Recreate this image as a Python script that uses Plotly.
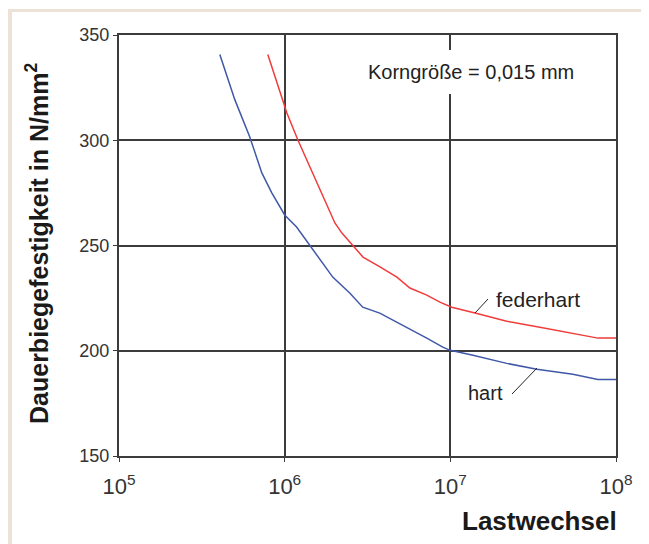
import plotly.graph_objects as go

# --- data ---
hart_n = [4.06e5, 5.0e5, 6.15e5, 7.28e5, 8.36e5, 1.0e6, 1.18e6, 1.42e6, 1.70e6, 1.95e6,
          2.47e6, 2.96e6, 3.75e6, 5.46e6, 7.21e6, 9.0e6, 1.0e7, 1.37e7, 2.19e7, 3.33e7,
          5.49e7, 7.78e7, 1.0e8]
hart_s = [340.7, 319.3, 301.7, 284.5, 275.0, 264.5, 258.8, 250.2, 241.7, 235.0,
          227.4, 220.7, 217.9, 211.2, 206.0, 201.7, 200.2, 197.9, 194.0, 191.2,
          188.8, 186.4, 186.4]
feder_n = [7.91e5, 9.75e5, 1.03e6, 1.20e6, 1.42e6, 1.70e6, 2.01e6, 2.21e6, 2.73e6, 2.97e6,
           3.76e6, 4.76e6, 5.70e6, 7.21e6, 8.65e6, 1.02e7, 1.41e7, 2.19e7, 3.47e7, 5.49e7,
           7.78e7, 1.0e8]
feder_s = [340.7, 317.9, 313.1, 300.2, 287.4, 273.1, 260.7, 256.0, 247.9, 244.5,
           239.8, 235.0, 229.8, 226.4, 223.1, 220.7, 217.9, 214.0, 211.2, 208.3,
           206.0, 206.0]

x_tickvals = [1e5, 1e6, 1e7, 1e8]
x_ticktext = ["10<sup>5</sup>", "10<sup>6</sup>", "10<sup>7</sup>", "10<sup>8</sup>"]
y_tickvals = [150, 200, 250, 300, 350]

W, H = 649, 544
OFF = 8  # page body margin offset
L, R, T, B = 111, 41, 27, 96
PW, PH = W - L - R, H - T - B


def px(x):
    """page pixel x -> paper x"""
    return (x - OFF - L) / PW


def py(y):
    """page pixel y -> paper y"""
    return (H - B - (y - OFF)) / PH


FONT = "Liberation Sans, Arial, sans-serif"
GRID = "#3c3c3c"

fig = go.Figure()
fig.add_trace(go.Scatter(x=hart_n, y=hart_s, mode="lines", name="hart",
                         line=dict(color="#4058a8", width=1.5), hoverinfo="skip"))
fig.add_trace(go.Scatter(x=feder_n, y=feder_s, mode="lines", name="federhart",
                         line=dict(color="#f03c3c", width=1.5), hoverinfo="skip"))

fig.update_layout(
    width=W, height=H,
    margin=dict(l=L, r=R, t=T, b=B),
    paper_bgcolor="white", plot_bgcolor="white",
    showlegend=False,
    font=dict(family=FONT, color="#333333"),
    xaxis=dict(type="log", range=[5, 8], tickvals=x_tickvals, ticktext=x_ticktext,
               showgrid=True, gridcolor=GRID, gridwidth=2,
               showline=True, linecolor=GRID, linewidth=2, mirror=True,
               ticks="outside", ticklen=4, tickcolor=GRID, tickwidth=1,
               ticklabelstandoff=6,
               tickfont=dict(size=22, color="#333333"), zeroline=False),
    yaxis=dict(range=[150, 350], tickvals=y_tickvals,
               showgrid=True, gridcolor=GRID, gridwidth=2,
               showline=True, linecolor=GRID, linewidth=2, mirror=True,
               ticks="outside", ticklen=4, tickcolor=GRID, tickwidth=1,
               tickfont=dict(size=18, color="#333333"), zeroline=False),
)

shapes = [
    # beige frame stripes
    dict(type="rect", xref="paper", yref="paper", x0=px(8), x1=px(12), y0=py(552), y1=py(10),
         fillcolor="#ede2d8", line=dict(width=0), layer="below"),
    dict(type="rect", xref="paper", yref="paper", x0=px(8), x1=px(660), y0=py(12), y1=py(9),
         fillcolor="#ede2d8", line=dict(width=0), layer="below"),
    # leader lines
    dict(type="line", xref="paper", yref="paper", x0=px(488), y0=py(299), x1=px(475), y1=py(313),
         line=dict(color="#222222", width=1)),
    dict(type="line", xref="paper", yref="paper", x0=px(512), y0=py(394), x1=px(537), y1=py(368),
         line=dict(color="#222222", width=1)),
]
fig.update_layout(shapes=shapes)

annotations = [
    dict(text="Korngröße = 0,015 mm", xref="paper", yref="paper", x=px(471), y=py(72),
         xanchor="center", yanchor="middle", showarrow=False,
         bgcolor="white", borderpad=11, borderwidth=0,
         font=dict(size=20, color="#222222", family=FONT)),
    dict(text="federhart", xref="paper", yref="paper", x=px(494), y=py(299),
         xanchor="left", yanchor="middle", showarrow=False,
         font=dict(size=21, color="#222222", family=FONT)),
    dict(text="hart", xref="paper", yref="paper", x=px(466), y=py(393),
         xanchor="left", yanchor="middle", showarrow=False,
         font=dict(size=20, color="#222222", family=FONT)),
    dict(text="<b>Lastwechsel</b>", xref="paper", yref="paper", x=px(619), y=py(521),
         xanchor="right", yanchor="middle", showarrow=False,
         font=dict(size=26, color="#1a1a1a", family=FONT)),
    dict(text="<b>Dauerbiegefestigkeit in N/mm<sup>2</sup></b>", xref="paper", yref="paper",
         x=px(37), y=py(244), xanchor="center", yanchor="middle", textangle=-90,
         showarrow=False, font=dict(size=25, color="#1a1a1a", family=FONT)),
]
fig.update_layout(annotations=annotations)

fig.write_html("out.html")
